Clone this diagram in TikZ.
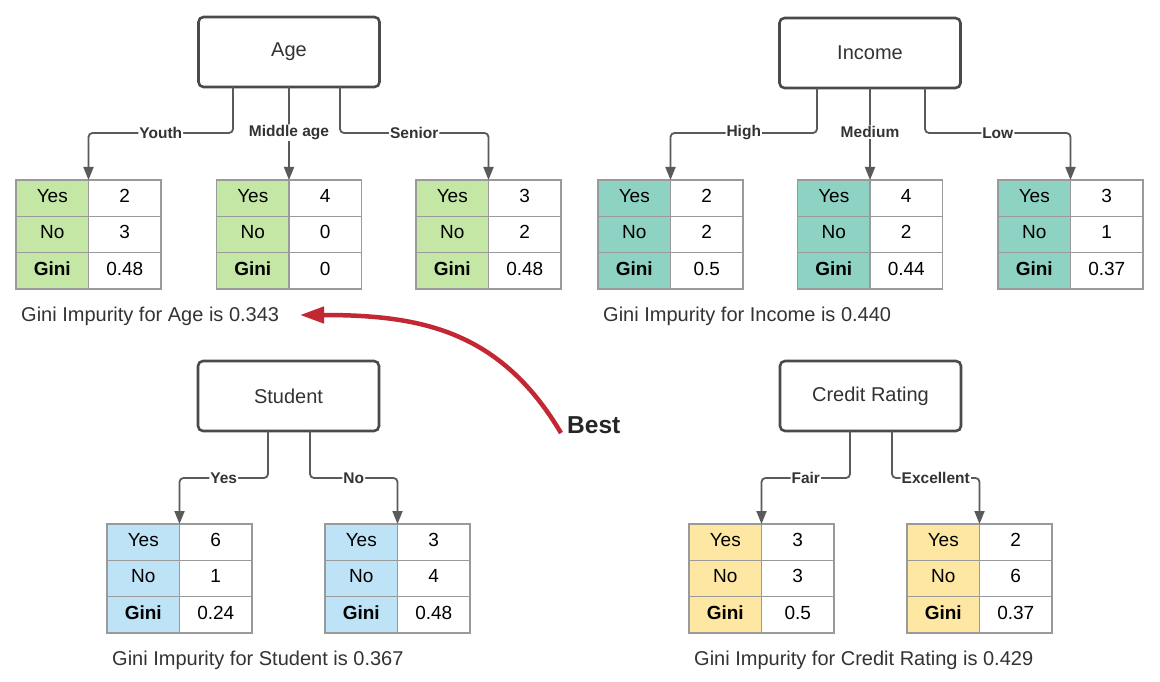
\documentclass[tikz,border=0pt]{standalone}
\usepackage{fontspec}
\setmainfont{Liberation Sans}
\usetikzlibrary{arrows.meta,calc}
\definecolor{cgreen}{HTML}{C5E7A6}
\definecolor{cteal}{HTML}{8ED2C3}
\definecolor{cblue}{HTML}{BEE2F6}
\definecolor{cyellow}{HTML}{FDE7A2}
\definecolor{cline}{HTML}{5A5A5A}
\definecolor{cbox}{HTML}{4A4A4A}
\definecolor{cgrid}{HTML}{9A9A9A}
\definecolor{cred}{HTML}{C42734}
\definecolor{ctext}{HTML}{333333}
\tikzset{
 attr/.style={draw=cbox, line width=2.6pt, rounded corners=5pt, minimum width=181pt, minimum height=70pt, inner sep=0pt, outer sep=0pt, font=\fontsize{20}{24}\selectfont, text=ctext, fill=white},
 cell/.style={draw=cgrid, line width=1.2pt, minimum width=72.5pt, minimum height=36.3pt, inner sep=0pt, outer sep=0pt, text height=13.6pt, text depth=5pt, font=\fontsize{19}{22}\selectfont, anchor=north west, text=black},
 conn/.style={draw=cline, line width=1.8pt, rounded corners=4pt, -{Triangle[length=13pt,width=10pt]}},
 elbl/.style={fill=white, inner sep=1pt, font=\fontsize{15.5}{18}\selectfont\bfseries, text=ctext},
 capt/.style={anchor=west, inner sep=0pt, font=\fontsize{20}{24}\selectfont, text=ctext},
}
\newcommand{\gtab}[7]{%
 \node[cell, fill=#4] (#1y) at (#2,#3) {Yes};
 \node[cell] (#1yv) at (#1y.north east) {#5};
 \node[cell, fill=#4] (#1n) at (#1y.south west) {No};
 \node[cell] (#1nv) at (#1n.north east) {#6};
 \node[cell, fill=#4, font=\fontsize{19}{22}\selectfont\bfseries] (#1g) at (#1n.south west) {Gini};
 \node[cell] (#1gv) at (#1g.north east) {#7};
}
\begin{document}
\begin{tikzpicture}[x=1pt,y=-1pt]
\fill[white] (0,0) rectangle (1160,682);
\useasboundingbox (0,0) rectangle (1160,682);

% attribute boxes
\node[attr] (age) at (289,52) {Age};
\node[attr] (inc) at (870,53) {Income};
\node[attr] (stu) at (288.5,396) {Student};
\node[attr] (cre) at (870.5,396) {Credit Rating};

% tables
\gtab{a1}{16}{180}{cgreen}{2}{3}{0.48}
\gtab{a2}{216.5}{180}{cgreen}{4}{0}{0}
\gtab{a3}{416}{180}{cgreen}{3}{2}{0.48}
\gtab{i1}{598}{180}{cteal}{2}{2}{0.5}
\gtab{i2}{797.5}{180}{cteal}{4}{2}{0.44}
\gtab{i3}{998}{180}{cteal}{3}{1}{0.37}
\gtab{s1}{107}{524}{cblue}{6}{1}{0.24}
\gtab{s2}{325}{524}{cblue}{3}{4}{0.48}
\gtab{c1}{689}{524}{cyellow}{3}{3}{0.5}
\gtab{c2}{907}{524}{cyellow}{2}{6}{0.37}

% connectors: Age
\draw[conn] ([xshift=-56pt]age.south) |- node[elbl,pos=0.75]{Youth} ([yshift=47pt]a1y.north east) -- (a1y.north east);
\draw[conn] (age.south) -- node[elbl,pos=0.49]{Middle age} (a2y.north east);
\draw[conn] ([xshift=51pt]age.south) |- node[elbl,pos=0.75]{Senior} ([yshift=47pt]a3y.north east) -- (a3y.north east);
% Income
\draw[conn] ([xshift=-53pt]inc.south) |- node[elbl,pos=0.75]{High} ([yshift=47pt]i1y.north east) -- (i1y.north east);
\draw[conn] (inc.south) -- node[elbl,pos=0.48]{Medium} (i2y.north east);
\draw[conn] ([xshift=55pt]inc.south) |- node[elbl,pos=0.75]{Low} ([yshift=47pt]i3y.north east) -- (i3y.north east);
% Student
\draw[conn] ([xshift=-20.5pt]stu.south) |- node[elbl,pos=0.75]{Yes} ([yshift=46pt]s1y.north east) -- (s1y.north east);
\draw[conn] ([xshift=21.5pt]stu.south) |- node[elbl,pos=0.75]{No} ([yshift=46pt]s2y.north east) -- (s2y.north east);
% Credit
\draw[conn] ([xshift=-20.5pt]cre.south) |- node[elbl,pos=0.75]{Fair} ([yshift=46pt]c1y.north east) -- (c1y.north east);
\draw[conn] ([xshift=21.5pt]cre.south) |- node[elbl,pos=0.75]{Excellent} ([yshift=46pt]c2y.north east) -- (c2y.north east);

% captions
\node[capt] (agecap) at (21,316) {Gini Impurity for Age is 0.343};
\node[capt] (inccap) at (603,316) {Gini Impurity for Income is 0.440};
\node[capt] (stucap) at (112,660) {Gini Impurity for Student is 0.367};
\node[capt] (crecap) at (694,660) {Gini Impurity for Credit Rating is 0.429};

% best arrow
\node[anchor=west, inner sep=0pt, font=\fontsize{24.5}{28}\selectfont\bfseries, text=black!85] (best) at (567,425) {Best};
\coordinate (bstart) at (561,433);
\coordinate (bend) at (300,315);
\draw[draw=cred, line width=4.5pt, -{Triangle[length=24pt,width=16pt]}] (bstart) .. controls (500,330) and (420,315) .. (bend);
\end{tikzpicture}
\end{document}
